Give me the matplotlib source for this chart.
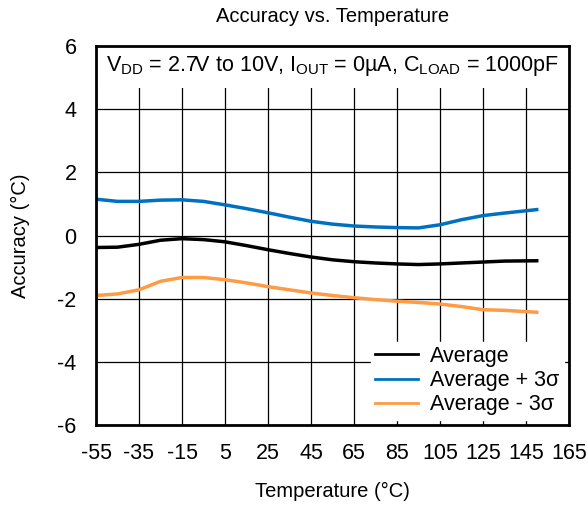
import numpy as np
import matplotlib
matplotlib.use('Agg')
import matplotlib.pyplot as plt

plt.rcParams['font.family'] = ['Liberation Sans', 'DejaVu Sans']
plt.rcParams['mathtext.fontset'] = 'custom'
plt.rcParams['mathtext.rm'] = 'Liberation Sans'
plt.rcParams['axes.unicode_minus'] = False

# readings
temp = [-55, -45, -35, -25, -15, -5, 5, 15, 25, 35, 45, 55, 65, 75, 85, 95, 105, 115, 125, 135, 150]
avg = [-0.38, -0.37, -0.28, -0.15, -0.10, -0.13, -0.20, -0.32, -0.45, -0.57, -0.68, -0.77, -0.83, -0.87, -0.90, -0.92, -0.90, -0.87, -0.84, -0.81, -0.80]
avg_p3 = [1.15, 1.08, 1.08, 1.12, 1.13, 1.08, 0.97, 0.85, 0.72, 0.58, 0.45, 0.36, 0.30, 0.27, 0.25, 0.24, 0.34, 0.50, 0.63, 0.71, 0.82]
avg_m3 = [-1.90, -1.85, -1.72, -1.45, -1.33, -1.33, -1.40, -1.50, -1.62, -1.72, -1.82, -1.90, -1.97, -2.03, -2.08, -2.12, -2.17, -2.25, -2.35, -2.37, -2.43]

xticks = np.arange(-55, 166, 20)
yticks = np.arange(-6, 7, 2)

fig = plt.figure(figsize=(5.88, 5.05), dpi=100)
ax = fig.add_axes([96/588, 1-425/505, (569-96)/588, (425-46)/505])

ax.plot(temp, avg, c='black', lw=2.5, label='Average', zorder=3)
ax.plot(temp, avg_p3, c='#0070C0', lw=2.5, label='Average + 3σ', zorder=3)
ax.plot(temp, avg_m3, c='#FF9A45', lw=2.5, label='Average - 3σ', zorder=3)

ax.set_xlim(-55, 165)
ax.set_ylim(-6, 6)
ax.set_xticks(xticks)
ax.set_yticks(yticks)
ax.grid(True, color='black', lw=0.9, zorder=0)
ax.set_axisbelow(True)
ax.tick_params(labelsize=15.5, length=0)
ax.tick_params(axis='x', pad=13)
ax.tick_params(axis='y', pad=14)
for s in ax.spines.values():
    s.set_linewidth(2)
    s.set_zorder(5)

ax.set_title('Accuracy vs. Temperature', fontsize=14.5, pad=17)
ax.set_xlabel('Temperature (°C)', fontsize=14.5, labelpad=13)
ax.set_ylabel('Accuracy (°C)', fontsize=14.5, labelpad=20)

ax.text(0.5, 0.947, r'V$_\mathregular{DD}$ = 2.7V to 10V, I$_\mathregular{OUT}$ = 0µA, C$_\mathregular{LOAD}$ = 1000pF',
        transform=ax.transAxes, ha='center', va='center', fontsize=15.5, zorder=4,
        bbox=dict(facecolor='white', edgecolor='none', boxstyle='square,pad=0.45'))

leg = ax.legend(loc='lower right', fontsize=15.5, frameon=True, fancybox=False,
                edgecolor='white', framealpha=1, handlelength=2.0, handletextpad=0.55,
                borderpad=0.2, labelspacing=0.15, borderaxespad=0.25)
for line in leg.get_lines():
    line.set_linewidth(2)
leg.set_zorder(4)

fig.savefig('out.png', dpi=100)
